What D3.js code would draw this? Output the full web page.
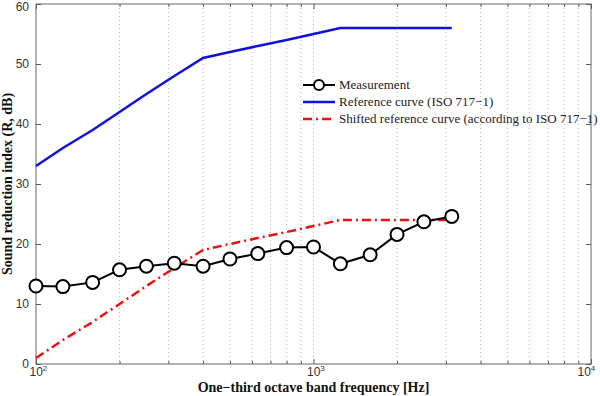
<!DOCTYPE html>
<html>
<head>
<meta charset="utf-8">
<script src="https://cdn.jsdelivr.net/npm/d3@7"></script>
<style>
  body { margin: 0; background: #fff; }
  .tick text { font-family: "Liberation Sans", Arial, sans-serif; font-size: 12px; fill: #333; }
</style>
</head>
<body>
<div id="chart"></div>
<script>
// one-third octave band centre frequencies
const freqs = [100, 125, 160, 200, 250, 315, 400, 500, 630, 800, 1000, 1250, 1600, 2000, 2500, 3150];
const measurement = [13.0, 12.9, 13.6, 15.7, 16.3, 16.8, 16.3, 17.5, 18.4, 19.4, 19.5, 16.7, 18.2, 21.6, 23.7, 24.6];
const reference = [33, 36, 39, 42, 45, 48, 51, 52, 53, 54, 55, 56, 56, 56, 56, 56];
const shifted = [1, 4, 7, 10, 13, 16, 19, 20, 21, 22, 23, 24, 24, 24, 24, 24];
const yTicks = [0, 10, 20, 30, 40, 50, 60];
const xMajor = [100, 1000, 10000];
const xMinor = [200, 300, 400, 500, 600, 700, 800, 900, 2000, 3000, 4000, 5000, 6000, 7000, 8000, 9000];
const legendLabels = ['Measurement', 'Reference curve (ISO 717\u22121)', 'Shifted reference curve (according to ISO 717\u22121)'];

const W = 600, H = 396;
const margin = { top: 4, right: 9, bottom: 32, left: 36 };
const width = W - margin.left - margin.right;
const height = H - margin.top - margin.bottom;

const svg = d3.select('#chart').append('svg')
    .attr('width', W)
    .attr('height', H);

const g = svg.append('g')
    .attr('transform', `translate(${margin.left},${margin.top})`);

const x = d3.scaleLog().domain([100, 10000]).range([0, width]);
const y = d3.scaleLinear().domain([0, 60]).range([height, 0]);

// dotted vertical grid
g.append('g')
    .selectAll('line')
    .data(xMinor.concat([1000]))
    .join('line')
    .attr('x1', d => x(d)).attr('x2', d => x(d))
    .attr('y1', 0).attr('y2', height)
    .attr('stroke', '#b5b5b5')
    .attr('stroke-width', 1)
    .attr('stroke-dasharray', '1,3');

// axes
const xAxis = g.append('g')
    .attr('transform', `translate(0,${height})`)
    .call(d3.axisBottom(x).tickValues(xMajor).tickSize(-5).tickFormat(''));
const xAxisMinor = g.append('g')
    .attr('transform', `translate(0,${height})`)
    .call(d3.axisBottom(x).tickValues(xMinor).tickSize(-3).tickFormat(''));
const xTop = g.append('g')
    .call(d3.axisTop(x).tickValues(xMajor).tickSize(-5).tickFormat(''));
const xTopMinor = g.append('g')
    .call(d3.axisTop(x).tickValues(xMinor).tickSize(-3).tickFormat(''));
const yAxis = g.append('g')
    .call(d3.axisLeft(y).tickValues(yTicks).tickSize(-5).tickPadding(7));
const yRight = g.append('g')
    .attr('transform', `translate(${width},0)`)
    .call(d3.axisRight(y).tickValues(yTicks).tickSize(-5).tickFormat(''));

[xAxis, xAxisMinor, xTop, xTopMinor, yAxis, yRight].forEach(a => {
    a.select('.domain').remove();
    a.selectAll('.tick line').attr('stroke', '#555');
});
yAxis.selectAll('.tick text').filter(d => d === 60).attr('dy', '0.5em');

// 10^n labels under the major ticks
const xLab = xAxis.selectAll('.tick').append('text')
    .attr('y', 12)
    .attr('text-anchor', 'start')
    .attr('x', d => d === 10000 ? -14 : -7)
    .attr('fill', '#333');
xLab.append('tspan').text('10');
xLab.append('tspan')
    .attr('dy', -5)
    .attr('font-size', 8)
    .text(d => Math.round(Math.log10(d)));

g.append('rect')
    .attr('width', width).attr('height', height)
    .attr('fill', 'none')
    .attr('stroke', '#666')
    .attr('stroke-width', 1);

// lines
const line = d3.line().x(d => x(d[0])).y(d => y(d[1]));

g.append('path')
    .datum(freqs.map((f, i) => [f, reference[i]]))
    .attr('d', line)
    .attr('fill', 'none')
    .attr('stroke', '#1010e0')
    .attr('stroke-width', 2.5);

g.append('path')
    .datum(freqs.map((f, i) => [f, shifted[i]]))
    .attr('d', line)
    .attr('fill', 'none')
    .attr('stroke', '#f01010')
    .attr('stroke-width', 2.5)
    .attr('stroke-dasharray', '9,4,2,4');

g.append('path')
    .datum(freqs.map((f, i) => [f, measurement[i]]))
    .attr('d', line)
    .attr('fill', 'none')
    .attr('stroke', '#000')
    .attr('stroke-width', 2);

g.selectAll('.marker')
    .data(freqs.map((f, i) => [f, measurement[i]]))
    .join('circle')
    .attr('class', 'marker')
    .attr('cx', d => x(d[0]))
    .attr('cy', d => y(d[1]))
    .attr('r', 6.5)
    .attr('fill', '#fff')
    .attr('stroke', '#000')
    .attr('stroke-width', 2);

// legend
const legend = g.append('g').attr('transform', 'translate(267,81)');
const styles = [
    { stroke: '#000', w: 2, dash: null, marker: true },
    { stroke: '#1010e0', w: 2.5, dash: null, marker: false },
    { stroke: '#f01010', w: 2.5, dash: '9,4,2,4', marker: false }
];
legendLabels.forEach((lab, i) => {
    const row = legend.append('g').attr('transform', `translate(0,${i * 17})`);
    row.append('line')
        .attr('x1', 0).attr('x2', 32).attr('y1', 0).attr('y2', 0)
        .attr('stroke', styles[i].stroke)
        .attr('stroke-width', styles[i].w)
        .attr('stroke-dasharray', styles[i].dash);
    if (styles[i].marker) {
        row.append('circle').attr('cx', 16).attr('cy', 0).attr('r', 5)
            .attr('fill', '#fff').attr('stroke', '#000').attr('stroke-width', 2);
    }
    row.append('text')
        .attr('x', 36).attr('y', 4)
        .attr('font-family', '"Liberation Serif", "Times New Roman", serif')
        .attr('font-size', 13)
        .attr('fill', '#222')
        .text(lab);
});

// axis labels
svg.append('text')
    .attr('x', margin.left + width / 2)
    .attr('y', 392)
    .attr('text-anchor', 'middle')
    .attr('font-family', '"Liberation Serif", "Times New Roman", serif')
    .attr('font-weight', 'bold')
    .attr('font-size', 14)
    .attr('fill', '#111')
    .text('One\u2212third octave band frequency [Hz]');

svg.append('text')
    .attr('transform', `translate(12,${margin.top + height / 2}) rotate(-90)`)
    .attr('text-anchor', 'middle')
    .attr('font-family', '"Liberation Serif", "Times New Roman", serif')
    .attr('font-weight', 'bold')
    .attr('font-size', 14)
    .attr('fill', '#111')
    .text('Sound reduction index (R, dB)');
</script>
</body>
</html>
